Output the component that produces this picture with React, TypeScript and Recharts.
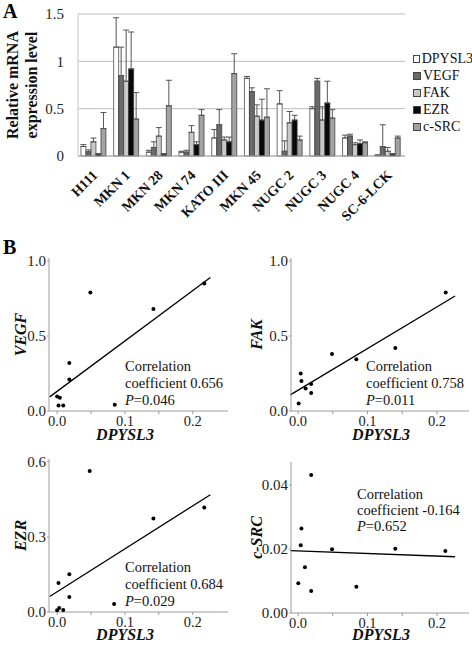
import React from 'react';
import {
    BarChart,
    Bar,
    XAxis,
    YAxis,
    CartesianGrid,
    Legend,
    ErrorBar,
    ScatterChart,
    Scatter,
    ReferenceLine,
} from 'recharts';

const SERIF = "'Liberation Serif', 'Times New Roman', serif";

// panel A: relative mRNA level per cell line (mean, upper error)
const cellLines = ['H111', 'MKN 1', 'MKN 28', 'MKN 74', 'KATO III', 'MKN 45', 'NUGC 2', 'NUGC 3', 'NUGC 4', 'SC-6-LCK'];
const genes = ['DPYSL3', 'VEGF', 'FAK', 'EZR', 'c-SRC'];
const geneFills = ['#ffffff', '#6a6a6a', '#c9c9c9', '#080808', '#a3a3a3'];

const dpysl3Level = [0.1, 1.15, 0.04, 0.04, 0.19, 0.82, 0.55, 0.5, 0.19, 0.01];
const dpysl3Err = [0.02, 0.31, 0.02, 0.01, 0.09, 0.02, 0.14, 0.02, 0.03, 0];
const vegfLevel = [0.045, 0.85, 0.09, 0.04, 0.33, 0.68, 0.05, 0.79, 0.21, 0.1];
const vegfErr = [0.02, 0.3, 0.06, 0.02, 0.16, 0.04, 0.11, 0.03, 0.02, 0.23];
const fakLevel = [0.15, 0.79, 0.21, 0.25, 0.17, 0.42, 0.35, 0.38, 0.12, 0.05];
const fakErr = [0.04, 0.54, 0.09, 0.07, 0.03, 0.12, 0.12, 0.14, 0.02, 0.04];
const ezrLevel = [0.02, 0.92, 0.02, 0.12, 0.15, 0.38, 0.38, 0.56, 0.13, 0.02];
const ezrErr = [0.005, 0.39, 0.005, 0.03, 0.05, 0.22, 0.05, 0.23, 0.04, 0.005];
const csrcLevel = [0.29, 0.39, 0.53, 0.43, 0.87, 0.41, 0.17, 0.4, 0.14, 0.19];
const csrcErr = [0.17, 0.28, 0.27, 0.06, 0.21, 0.3, 0.04, 0.09, 0.01, 0.02];
const barTicks = [0, 0.5, 1, 1.5];
const bandEdges = [0, 1, 2, 3, 4, 5, 6, 7, 8, 9, 10];

// panel B: DPYSL3 vs each gene
const vegfX = [0.217, 0.142, 0.049, 0.018, 0.018, 0.0, 0.004, 0.002, 0.009, 0.085];
const vegfY = [0.85, 0.68, 0.79, 0.32, 0.21, 0.096, 0.089, 0.036, 0.036, 0.042];
const fakX = [0.2125, 0.14, 0.084, 0.049, 0.004, 0.005, 0.011, 0.019, 0.019, 0.001];
const fakY = [0.79, 0.42, 0.345, 0.38, 0.25, 0.2, 0.15, 0.18, 0.12, 0.05];
const ezrX = [0.217, 0.142, 0.048, 0.018, 0.002, 0.018, 0.0, 0.003, 0.009, 0.084];
const ezrY = [0.417, 0.373, 0.563, 0.151, 0.116, 0.06, 0.007, 0.016, 0.008, 0.032];
const csrcX = [0.212, 0.14, 0.049, 0.084, 0.019, 0.005, 0.004, 0.01, 0.0005, 0.019];
const csrcY = [0.0194, 0.0201, 0.0199, 0.0082, 0.0431, 0.0264, 0.0212, 0.0143, 0.0093, 0.0069];

// regression fits [intercept, slope] and line x-range
const vegfFit = [0.131, 3.36];
const fakFit = [0.138, 2.78];
const ezrFit = [0.081, 1.714];
const csrcFit = [0.01942, -0.00815];
const fitRange = [-0.011, 0.226];

const correlations = ['0.656', '0.758', '0.684', '-0.164'];
const pValues = ['0.046', '0.011', '0.029', '0.652'];

const xMinorTicks = [0, 0.05, 0.1, 0.15, 0.2];

const barData = cellLines.map((name, i) => ({
    name,
    DPYSL3: dpysl3Level[i],
    DPYSL3_e: [0, dpysl3Err[i]],
    VEGF: vegfLevel[i],
    VEGF_e: [0, vegfErr[i]],
    FAK: fakLevel[i],
    FAK_e: [0, fakErr[i]],
    EZR: ezrLevel[i],
    EZR_e: [0, ezrErr[i]],
    'c-SRC': csrcLevel[i],
    'c-SRC_e': [0, csrcErr[i]],
}));

const CellTick = ({ x, y, payload }: any) => {
    const px = x + 4;
    const py = y + 20;
    return (
        <text
            x={px}
            y={py}
            transform={`rotate(-45 ${px} ${py})`}
            textAnchor="end"
            fontFamily={SERIF}
            fontWeight="bold"
            fontSize={14}
            fill="#111"
        >
            {payload.value}
        </text>
    );
};

const BarYTitle = ({ viewBox }: any) => {
    const cy = viewBox.y + viewBox.height / 2;
    return (
        <text
            transform={`translate(${viewBox.x + 18} ${cy}) rotate(-90)`}
            textAnchor="middle"
            fontFamily={SERIF}
            fontWeight="bold"
            fontSize={16}
            fill="#111"
        >
            <tspan x={0} y={0}>Relative mRNA</tspan>
            <tspan x={0} y={19}>expression level</tspan>
        </text>
    );
};

// legend keeps the series order of the figure
const LegendBox = () => (
    <div style={{ fontFamily: SERIF, fontSize: 14, color: '#111' }}>
        {genes.map((g, i) => (
            <div key={g} style={{ display: 'flex', alignItems: 'center', height: 17 }}>
                <span
                    style={{
                        display: 'inline-block',
                        width: 6,
                        height: 6,
                        border: '1px solid #444',
                        background: geneFills[i],
                        marginRight: 2,
                    }}
                />
                {g}
            </div>
        ))}
    </div>
);

const Dot = ({ cx, cy }: any) => <circle cx={cx} cy={cy} r={2} fill="#000" />;

const YTitle = ({ viewBox, value }: any) => {
    const cx = viewBox.x + 20;
    const cy = viewBox.y + viewBox.height / 2;
    return (
        <text
            transform={`translate(${cx} ${cy}) rotate(-90)`}
            textAnchor="middle"
            dominantBaseline="central"
            fontFamily={SERIF}
            fontWeight="bold"
            fontStyle="italic"
            fontSize={16}
            fill="#111"
        >
            {value}
        </text>
    );
};

interface PanelProps {
    left: number;
    top: number;
    yAxisWidth: number;
    marginTop: number;
    marginRight: number;
    xAxisHeight: number;
    xDomain: number[];
    yDomain: number[];
    yTicks: number[];
    yDigits: number;
    xs: number[];
    ys: number[];
    fit: number[];
    gene: string;
    idx: number;
    noteLeft: number;
    noteTop: number;
    noteLine: number;
    titleX: number;
    titleY: number;
}

const PANEL_H = 211;

const ScatterPanel = (p: PanelProps) => {
    const points = p.xs.map((x, i) => ({ x, y: p.ys[i] }));
    const seg = fitRange.map((x) => ({ x, y: p.fit[0] + p.fit[1] * x }));
    return (
        <div style={{ position: 'absolute', left: p.left, top: p.top, width: 236, height: PANEL_H }}>
            <ScatterChart
                width={236}
                height={PANEL_H}
                margin={{ top: p.marginTop, right: p.marginRight, bottom: 0, left: 0 }}
            >
                <XAxis
                    type="number"
                    dataKey="x"
                    domain={p.xDomain}
                    allowDataOverflow
                    ticks={xMinorTicks}
                    interval={0}
                    tickFormatter={(v: number) => (Math.round(v * 100) % 10 === 0 ? v.toFixed(1) : '')}
                    height={p.xAxisHeight}
                    tickSize={3}
                    tickMargin={2}
                    stroke="#9a9a9a"
                    tick={{ fontFamily: SERIF, fontSize: 14.5, fill: '#222' }}
                />
                <YAxis
                    type="number"
                    dataKey="y"
                    domain={p.yDomain}
                    allowDataOverflow
                    ticks={p.yTicks}
                    interval={0}
                    tickFormatter={(v: number) => v.toFixed(p.yDigits)}
                    width={p.yAxisWidth}
                    tickSize={2}
                    tickMargin={1}
                    stroke="#9a9a9a"
                    tick={{ fontFamily: SERIF, fontSize: 15, fill: '#222' }}
                    label={{ content: (lp: any) => <YTitle {...lp} value={p.gene} /> }}
                />
                <Scatter data={points} shape={<Dot />} isAnimationActive={false} />
                <ReferenceLine
                    segment={seg}
                    stroke="#000"
                    strokeWidth={1.3}
                    ifOverflow="visible"
                />
            </ScatterChart>
            <div
                style={{
                    position: 'absolute',
                    left: p.titleX - 50,
                    width: 100,
                    top: p.titleY - 6,
                    textAlign: 'center',
                    fontFamily: SERIF,
                    fontWeight: 'bold',
                    fontStyle: 'italic',
                    fontSize: 16,
                    lineHeight: '12px',
                    color: '#111',
                }}
            >
                DPYSL3
            </div>
            <div
                style={{
                    position: 'absolute',
                    left: p.noteLeft,
                    top: p.noteTop,
                    fontFamily: SERIF,
                    fontSize: 14.5,
                    lineHeight: `${p.noteLine}px`,
                    color: '#111',
                    whiteSpace: 'nowrap',
                }}
            >
                <div>Correlation</div>
                <div>coefficient {correlations[p.idx]}</div>
                <div>
                    <i>P</i>={pValues[p.idx]}
                </div>
            </div>
        </div>
    );
};

const App = () => {
    return (
        <div
            style={{
                position: 'absolute',
                left: 0,
                top: 0,
                width: 472,
                height: 651,
                background: '#fff',
                overflow: 'hidden',
            }}
        >
            <div style={{ position: 'absolute', left: 3, top: 0, fontFamily: SERIF, fontWeight: 'bold', fontSize: 20 }}>A</div>
            <div style={{ position: 'absolute', left: 3, top: 236, fontFamily: SERIF, fontWeight: 'bold', fontSize: 20 }}>B</div>

            <div style={{ position: 'absolute', left: 0, top: 0 }}>
                <BarChart
                    width={472}
                    height={235}
                    data={barData}
                    margin={{ top: 14, right: 67, bottom: 0, left: 0 }}
                    barGap={0}
                    barCategoryGap="9%"
                >
                    <CartesianGrid vertical={false} stroke="#bdbdbd" />
                    <XAxis
                        xAxisId="edges"
                        type="number"
                        domain={[0, 10]}
                        ticks={bandEdges}
                        interval={0}
                        tick={false}
                        tickLine={{ stroke: '#aaa' }}
                        tickSize={4}
                        axisLine={false}
                        height={0}
                    />
                    <XAxis
                        dataKey="name"
                        interval={0}
                        tickLine={false}
                        tickSize={0}
                        tickMargin={0}
                        stroke="#aaa"
                        height={79}
                        tick={<CellTick />}
                    />
                    <YAxis
                        domain={[0, 1.5]}
                        ticks={barTicks}
                        interval={0}
                        width={78}
                        tickLine={false}
                        tickSize={0}
                        tickMargin={14}
                        stroke="#c4c4c4"
                        tick={{ fontFamily: SERIF, fontSize: 15, fill: '#222' }}
                        label={{ content: <BarYTitle /> }}
                    />
                    <Legend
                        layout="vertical"
                        align="center"
                        verticalAlign="middle"
                        wrapperStyle={{ left: 413, top: 50, width: 60 }}
                        content={<LegendBox />}
                    />
                    {genes.map((g, i) => (
                        <Bar
                            key={g}
                            dataKey={g}
                            name={g}
                            fill={geneFills[i]}
                            stroke="#333"
                            strokeWidth={0.7}
                            isAnimationActive={false}
                        >
                            <ErrorBar dataKey={`${g}_e`} width={3} stroke="#555" strokeWidth={1} direction="y" />
                        </Bar>
                    ))}
                </BarChart>
            </div>

            <ScatterPanel
                left={0}
                top={240}
                yAxisWidth={49}
                marginTop={18}
                marginRight={8}
                xAxisHeight={40}
                xDomain={[-0.012, 0.252]}
                yDomain={[0, 1.02]}
                yTicks={[0, 0.5, 1]}
                yDigits={1}
                xs={vegfX}
                ys={vegfY}
                fit={vegfFit}
                gene="VEGF"
                idx={0}
                noteLeft={125}
                noteTop={118}
                noteLine={17}
                titleX={125}
                titleY={195}
            />
            <ScatterPanel
                left={236}
                top={240}
                yAxisWidth={55}
                marginTop={18}
                marginRight={3}
                xAxisHeight={40}
                xDomain={[-0.01, 0.246]}
                yDomain={[0, 1.02]}
                yTicks={[0, 0.5, 1]}
                yDigits={1}
                xs={fakX}
                ys={fakY}
                fit={fakFit}
                gene="FAK"
                idx={1}
                noteLeft={130}
                noteTop={118}
                noteLine={17}
                titleX={145}
                titleY={195}
            />
            <ScatterPanel
                left={0}
                top={440}
                yAxisWidth={49}
                marginTop={19}
                marginRight={8}
                xAxisHeight={39}
                xDomain={[-0.012, 0.252]}
                yDomain={[0, 0.611]}
                yTicks={[0, 0.3, 0.6]}
                yDigits={1}
                xs={ezrX}
                ys={ezrY}
                fit={ezrFit}
                gene="EZR"
                idx={2}
                noteLeft={125}
                noteTop={119}
                noteLine={17}
                titleX={125}
                titleY={195}
            />
            <ScatterPanel
                left={236}
                top={440}
                yAxisWidth={55}
                marginTop={22}
                marginRight={3}
                xAxisHeight={38}
                xDomain={[-0.01, 0.246]}
                yDomain={[0, 0.0472]}
                yTicks={[0, 0.02, 0.04]}
                yDigits={2}
                xs={csrcX}
                ys={csrcY}
                fit={csrcFit}
                gene="c-SRC"
                idx={3}
                noteLeft={121}
                noteTop={46}
                noteLine={16}
                titleX={145}
                titleY={195}
            />
        </div>
    );
};

export default App;
